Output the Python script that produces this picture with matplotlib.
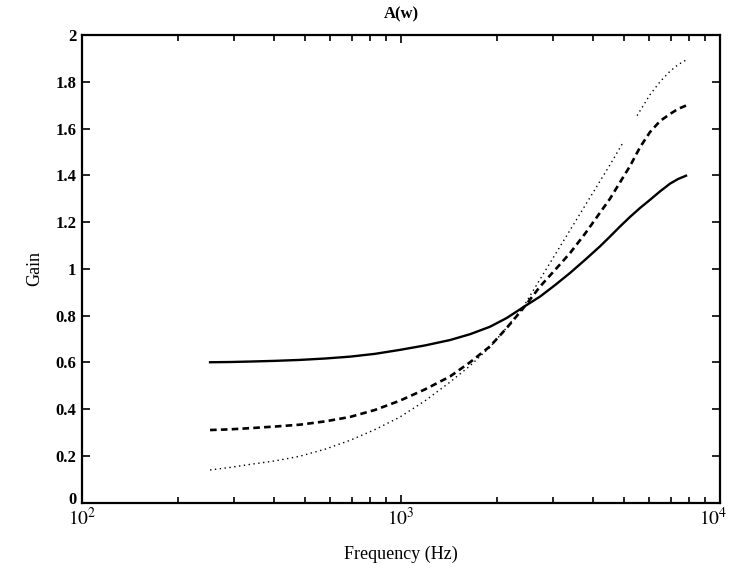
import numpy as np
import matplotlib
matplotlib.use("Agg")
import matplotlib.pyplot as plt
import matplotlib.transforms as mtransforms
from matplotlib.ticker import LogLocator, NullFormatter, FixedLocator

# values (Hz, gain)
freq = [252, 291, 336, 403, 482, 578, 692, 829, 993, 1189, 1424, 1646, 1901, 2149, 2413,
        2728, 3039, 3387, 3774, 4206, 4521, 4860, 5224, 5614, 6034, 6485, 6970, 7386, 7824]
gain_solid = [0.600, 0.601, 0.603, 0.606, 0.610, 0.616, 0.624, 0.636, 0.653, 0.672, 0.695,
              0.720, 0.752, 0.790, 0.835, 0.881, 0.930, 0.982, 1.038, 1.096, 1.138, 1.181,
              1.222, 1.260, 1.295, 1.331, 1.364, 1.384, 1.398]
gain_dashed = [0.310, 0.313, 0.318, 0.325, 0.333, 0.347, 0.366, 0.396, 0.436, 0.484, 0.539,
               0.600, 0.668, 0.748, 0.830, 0.924, 0.995, 1.067, 1.150, 1.240, 1.300, 1.370,
               1.440, 1.520, 1.585, 1.632, 1.662, 1.684, 1.698]

# dotted curve has a gap near 5 kHz (nan breaks the line)
freq_dot = [252, 291, 336, 403, 482, 578, 692, 829, 993, 1189, 1424, 1646, 1901, 2149, 2413,
            2728, 3039, 3387, 3774, 4206, 4521, 4966, 5224, 5494, 6034, 6485, 6970, 7386, 7824]
gain_dotted = [0.139, 0.150, 0.163, 0.178, 0.198, 0.228, 0.266, 0.312, 0.366, 0.435, 0.515,
               0.585, 0.665, 0.750, 0.835, 0.955, 1.060, 1.165, 1.270, 1.375, 1.445, 1.540,
               np.nan, 1.655, 1.745, 1.800, 1.845, 1.873, 1.893]

yticks = [0, 0.2, 0.4, 0.6, 0.8, 1, 1.2, 1.4, 1.6, 1.8, 2]
ytick_labels = ["0", "0.2", "0.4", "0.6", "0.8", "1", "1.2", "1.4", "1.6", "1.8", "2"]
xticks = [1e2, 1e3, 1e4]
xtick_labels = ["$10^{2}$", "$10^{3}$", "$10^{4}$"]

plt.rcParams["font.family"] = ["Liberation Serif", "DejaVu Serif"]
plt.rcParams["mathtext.fontset"] = "stix"

fig = plt.figure(figsize=(7.29, 5.72), dpi=100)
ax = fig.add_axes([0.1125, 0.1215, 0.8752, 0.8173])

ax.plot(freq, gain_solid, color="black", lw=1.7, ls="-")
ax.plot(freq, gain_dashed, color="black", lw=1.9, ls=(0, (2.5, 1.6)))
ax.plot(freq_dot, gain_dotted, color="black", lw=1.0, ls=(0, (1, 2.5)))

ax.set_xscale("log")
ax.set_xlim(1e2, 1e4)
ax.set_ylim(0, 2)

ax.xaxis.set_major_locator(FixedLocator(xticks))
ax.set_xticklabels(xtick_labels, fontsize=14)
ax.xaxis.set_minor_locator(LogLocator(base=10, subs=np.arange(2, 10)))
ax.xaxis.set_minor_formatter(NullFormatter())
ax.set_yticks(yticks)
ax.set_yticklabels(ytick_labels, fontsize=12, fontweight="bold")

ax.tick_params(which="both", direction="in", top=True, right=True, width=1.2)
ax.tick_params(which="major", length=6)
ax.tick_params(axis="x", which="major", pad=3)
ax.tick_params(axis="y", which="major", pad=4)
ax.tick_params(which="minor", length=4)
for s in ax.spines.values():
    s.set_linewidth(1.6)

# nudge corner labels so "0" and 10^2 stack without touching, and 10^4 stays inside
pt = fig.dpi_scale_trans
last = ax.get_xticklabels()[-1]
last.set_transform(last.get_transform() + mtransforms.ScaledTranslation(-5 / 72, 0, pt))
zero = ax.get_yticklabels()[0]
zero.set_transform(zero.get_transform() + mtransforms.ScaledTranslation(0, 3 / 72, pt))

ax.set_title("A(w)", fontsize=12, fontweight="bold", pad=12)
ax.set_xlabel("Frequency (Hz)", fontsize=13, labelpad=12)
ax.set_ylabel("Gain", fontsize=13, labelpad=9)

fig.savefig("out.png", dpi=100)
